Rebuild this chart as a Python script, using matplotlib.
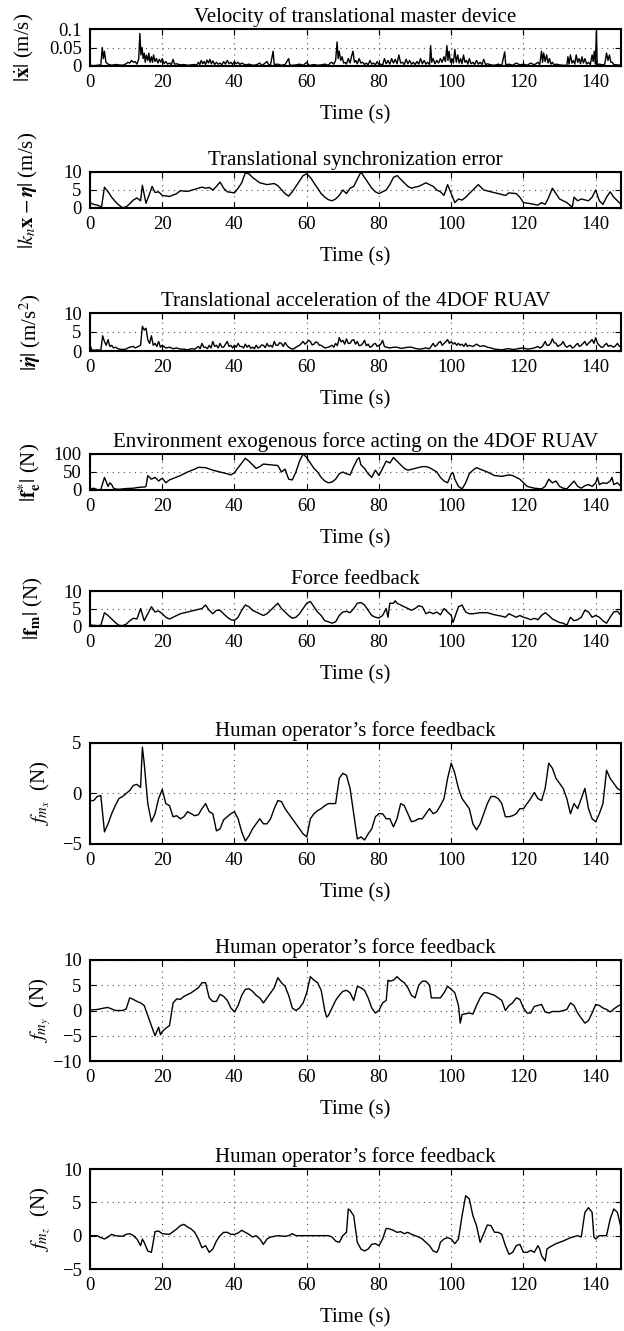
import matplotlib
matplotlib.use("Agg")
import matplotlib.pyplot as plt

plt.rcParams['font.family'] = ['Liberation Serif', 'DejaVu Serif']
plt.rcParams['mathtext.fontset'] = 'stix'

# ---------------- data (time s, value) ----------------
p1 = [(0,0.002),(1,0.001),(2,0.002),(3,0.003),(3.4,0.05),(3.7,0.02),(4,0.04),(4.4,0.01),(5,0.005),(6,0.002),(7,0.004),(8,0.003),(9,0.002),(10,0.006),(10.5,0.01),(11,0.008),(11.5,0.015),(12,0.01),(12.5,0.012),(13,0.005),(13.5,0.02),(13.8,0.088),(14.1,0.03),(14.4,0.05),(14.7,0.02),(15,0.035),(15.3,0.01),(15.6,0.03),(16,0.015),(16.3,0.035),(16.6,0.01),(17,0.025),(17.3,0.01),(17.6,0.03),(18,0.012),(18.4,0.02),(18.8,0.008),(19.2,0.018),(19.6,0.01),(20,0.02),(20.5,0.006),(21,0.012),(21.5,0.005),(22,0.008),(22.5,0.004),(23,0.018),(23.4,0.005),(24,0.006),(25,0.003),(26,0.004),(27,0.002),(28,0.003),(29,0.004),(29.5,0.002),(30,0.01),(30.4,0.004),(30.8,0.015),(31.2,0.006),(31.6,0.012),(32,0.004),(32.4,0.016),(32.8,0.008),(33.2,0.018),(33.6,0.006),(34,0.014),(34.5,0.004),(35,0.01),(35.5,0.005),(36,0.008),(36.5,0.003),(37,0.012),(37.5,0.005),(38,0.015),(38.5,0.006),(39,0.01),(39.5,0.004),(40,0.012),(40.5,0.006),(41,0.01),(41.5,0.004),(42,0.008),(43,0.003),(44,0.005),(45,0.002),(46,0.003),(47,0.008),(47.5,0.002),(48,0.004),(49,0.012),(49.5,0.003),(50,0.004),(50.7,0.04),(51,0.004),(52,0.005),(53,0.002),(54,0.004),(55,0.02),(55.3,0.003),(56,0.002),(57,0.003),(58,0.005),(59,0.002),(60,0.01),(60.5,0.003),(61,0.002),(62,0.004),(63,0.002),(64,0.003),(65,0.005),(66,0.002),(66.5,0.008),(67,0.01),(67.5,0.005),(68,0.015),(68.4,0.065),(68.7,0.02),(69,0.04),(69.4,0.015),(69.8,0.025),(70.2,0.008),(70.6,0.01),(71,0.005),(71.5,0.02),(72,0.008),(72.5,0.03),(72.8,0.04),(73.2,0.01),(73.6,0.015),(74,0.006),(74.5,0.02),(75,0.008),(75.5,0.01),(76,0.004),(76.5,0.008),(77,0.003),(77.5,0.015),(78,0.005),(78.5,0.008),(79,0.003),(79.5,0.012),(80,0.004),(80.5,0.005),(81,0.002),(81.5,0.02),(82,0.006),(82.5,0.015),(83,0.005),(83.5,0.02),(84,0.008),(84.5,0.018),(85,0.006),(85.5,0.03),(86,0.008),(86.5,0.01),(87,0.004),(87.5,0.018),(88,0.006),(88.5,0.015),(89,0.005),(89.5,0.01),(90,0.004),(90.5,0.012),(91,0.005),(91.5,0.02),(92,0.006),(92.5,0.015),(93,0.005),(93.5,0.01),(94,0.004),(94.3,0.055),(94.6,0.01),(95,0.02),(95.5,0.006),(96,0.015),(96.5,0.008),(97,0.02),(97.5,0.01),(98,0.025),(98.4,0.012),(98.8,0.055),(99.1,0.015),(99.4,0.04),(99.8,0.01),(100.2,0.02),(100.6,0.008),(101,0.045),(101.4,0.01),(101.8,0.03),(102.2,0.008),(102.6,0.02),(103,0.006),(103.4,0.03),(103.8,0.01),(104.2,0.015),(104.6,0.005),(105,0.02),(105.5,0.006),(106,0.01),(106.5,0.004),(107,0.015),(107.5,0.005),(108,0.01),(108.5,0.004),(109,0.018),(109.5,0.004),(110,0.006),(111,0.003),(112,0.002),(113,0.005),(114,0.002),(114.8,0.038),(115.1,0.003),(116,0.005),(117,0.002),(118,0.008),(119,0.003),(120,0.005),(121,0.002),(122,0.008),(123,0.003),(124,0.01),(124.5,0.004),(125,0.04),(125.3,0.01),(125.6,0.035),(126,0.012),(126.4,0.03),(126.8,0.008),(127.2,0.02),(127.6,0.005),(128,0.01),(128.5,0.003),(129,0.005),(130,0.003),(131,0.002),(132,0.002),(132.3,0.025),(132.6,0.005),(133,0.03),(133.4,0.008),(133.8,0.015),(134.2,0.005),(134.6,0.03),(135,0.01),(135.4,0.02),(135.8,0.006),(136.2,0.025),(136.6,0.008),(137,0.02),(137.5,0.005),(138,0.01),(138.5,0.004),(139,0.03),(139.3,0.012),(139.6,0.04),(139.9,0.005),(140.2,0.1),(140.4,0.004),(141,0.005),(142,0.003),(142.5,0.005),(143,0.035),(143.4,0.015),(143.8,0.03),(144.2,0.01),(144.6,0.01),(145,0.004),(146,0.003),(147,0.002)]

p2 = [(0,1.5),(1,1.0),(2,0.8),(3.2,0.3),(4,5.8),(5,4.5),(6,3),(7,1.8),(8,0.8),(9,0.1),(10,0.3),(11,1.2),(12,2.2),(13,2.8),(14,2),(14.5,6.3),(15.5,1.3),(16.5,4),(17.2,6),(18,4.3),(19,4.5),(20,3.5),(22,3.2),(24,4),(25,4.8),(27,4.6),(29,5.2),(31,5.8),(32,5.5),(33,5.7),(34,5),(35,6),(36,7.2),(37,5.5),(38,4.5),(40,4.2),(41,5.5),(42,7),(43,9.8),(44,9.5),(45,8.5),(47,7),(49,6.5),(51,6.8),(52,6.2),(54,4),(55,3.3),(56,4.5),(57,6),(58,7.5),(59,9),(60,9.5),(61,8.5),(62,7),(63,5.5),(64,4),(65,3),(66,2.3),(67,2),(68,2.5),(69,3.5),(70,5),(71,4),(72,5.5),(73,6),(74,8),(75,10),(76,8.5),(77,7),(78,5.5),(79,4.5),(80,4),(81,4.5),(82,5),(83,6.5),(84,8.5),(85,9),(86,8),(87,7),(88,6),(89,5.5),(90,5.8),(91,6),(92,6.5),(93,7),(94,6.5),(95,6),(96,5),(97,4.5),(98,3.5),(99,6.5),(100,4),(101,1.5),(102,2.5),(103,2.2),(104,3),(105,4),(106,5),(107.5,6.5),(109,5),(111,4.5),(113,4),(115,3.5),(116,4.2),(118,4),(119,3),(120,1.5),(122,1.2),(124,0.8),(125,1.5),(126,1),(127,3),(128,5.5),(129,4),(130,2.5),(132,1.5),(133.5,0.2),(134,3),(135,2),(136,2.5),(138,2),(139,3),(140,5),(141,2),(142,1),(143,3),(144,4.5),(145,3),(146.5,1.5),(147,1)]

p3 = [(0,1.5),(0.5,0.3),(1,0.2),(2,0.3),(3,0.2),(3.5,4),(4,2.5),(4.5,1.5),(5,3),(5.5,1.2),(6,1.5),(6.5,0.8),(7,1),(8,0.5),(9,0.4),(10,0.5),(10.5,0.8),(11,1),(12,1.2),(12.5,0.8),(13,1),(14,1.5),(14.5,6.5),(15,5.5),(15.5,6),(16,3),(16.5,2),(17,4),(17.5,1.5),(18,2),(18.5,1.2),(19,2.5),(19.5,1),(20,1.5),(21,0.8),(22,1),(23,0.6),(24,0.8),(25,0.5),(26,0.5),(27,0.3),(28,0.6),(29,0.5),(30,1.2),(30.5,0.6),(31,2),(31.5,1),(32,1),(32.5,0.6),(33,1.5),(33.5,0.8),(34,2.5),(34.5,1.2),(35,1.5),(35.5,0.8),(36,2),(36.5,1),(37,1),(37.5,1.8),(38,2.5),(38.5,1.2),(39,1.5),(39.5,0.8),(40,1.5),(40.5,1),(41,2),(41.5,1.2),(42,1.2),(42.5,0.8),(43,1.8),(43.5,1),(44,1.5),(44.5,0.7),(45,1),(45.5,0.6),(46,1.5),(46.5,0.8),(47,1),(47.5,1.6),(48,1.5),(48.5,0.9),(49,2),(49.5,1.2),(50,1.5),(50.5,1),(51,2.5),(51.5,1.5),(52,1.5),(52.5,2.2),(53,2),(53.5,1.2),(54,2.2),(54.5,1.5),(55,1),(55.5,0.7),(56,0.5),(56.5,0.6),(57,1),(58,1.5),(58.5,2),(59,2.5),(59.5,1.8),(60,2.2),(60.5,2.8),(61,2.5),(61.5,1.6),(62,1.8),(62.5,2.4),(63,2.2),(63.5,1.5),(64,1.5),(65,0.8),(66,1),(67,1.5),(67.5,1),(68,2),(68.5,1.4),(69,3.5),(69.5,2.4),(70,2.8),(70.5,1.8),(71,3.2),(71.5,2),(72,2),(72.5,2.8),(73,3),(73.5,1.8),(74,2.5),(74.5,1.4),(75,1.5),(75.5,2),(76,2.8),(76.5,1.4),(77,1.8),(77.5,1),(78,1.2),(78.5,1.8),(79,2),(79.5,1.2),(80,1.5),(80.5,1.8),(81,2.8),(81.5,1.2),(82,1),(83,0.8),(84,1),(85,1),(86,0.7),(87,0.8),(88,1),(89,1),(90,0.7),(91,0.5),(92,0.6),(93,0.8),(94,0.6),(95,2),(95.5,1.2),(96,1.5),(96.5,2.2),(97,2.5),(97.5,1.5),(98,2),(98.5,2.4),(99,3),(99.5,2),(100,2.5),(100.5,1.8),(101,2.2),(101.5,1.5),(102,2),(102.5,1.5),(103,1.8),(103.5,1.2),(104,2),(104.5,1.2),(105,1.5),(106,1.2),(107,1.8),(108,1.2),(109,1.4),(110,1),(111,0.8),(112,0.5),(113,0.4),(114,0.3),(115,0.5),(116,0.6),(117,0.4),(118,0.5),(119,0.7),(120,0.8),(121,0.5),(122,0.6),(123,0.8),(124,1.2),(124.5,0.8),(125,1),(125.5,1.6),(126,2.5),(126.5,1.5),(127,1.5),(127.5,2),(128,3.2),(128.5,2.2),(129,2),(129.5,1.2),(130,1.5),(130.5,1.8),(131,2.5),(131.5,1.4),(132,1),(132.5,1.3),(133,1.5),(133.5,0.8),(134,1),(134.5,1.6),(135,2),(135.5,1.2),(136,1.5),(136.5,2),(137,2.5),(137.5,1.5),(138,2),(138.5,2.5),(139,3),(139.5,2),(140,3.5),(140.5,2),(141,1.5),(141.5,1),(142,1),(142.5,1.6),(143,2),(143.5,1.2),(144,1.5),(145,1),(145.5,1.4),(146,2),(146.5,1.3),(147,1)]

p4 = [(0,2),(1,5),(2,1),(3,1),(4,35),(5,10),(5.5,20),(6,15),(6.5,5),(7,3),(8,2),(10,4),(12,5),(14,8),(15,8),(15.5,10),(16,40),(17,30),(18,35),(19,25),(20,33),(21,20),(22,28),(23,32),(25,40),(27,50),(29,58),(30,63),(32,62),(34,55),(36,50),(38,45),(39,42),(40,48),(41,62),(42,75),(43,88),(44,80),(45,70),(46,60),(47,65),(48,72),(50,70),(52,68),(53,50),(54,58),(55,30),(56,28),(57,50),(58,80),(59,100),(60,90),(61,75),(62,60),(63,50),(64,35),(65,25),(66,20),(67,22),(68,30),(69,45),(70,50),(71,45),(72,42),(73,65),(74,85),(74.5,90),(75,70),(76,60),(77,45),(78,35),(79,55),(80,40),(81,60),(82,80),(83,75),(84,90),(85,80),(86,70),(87,60),(88,55),(90,60),(92,65),(93,65),(94,62),(96,50),(97,35),(98,25),(99,20),(100,45),(100.5,48),(101,30),(102,10),(103,3),(104,20),(105,45),(106,55),(107,62),(108,58),(110,50),(112,40),(114,38),(116,42),(117,40),(119,30),(120,20),(121,10),(123,5),(125,3),(126,10),(127,30),(128,20),(129,25),(130,10),(131,5),(132,3),(134,25),(135,10),(136,5),(137,12),(138,15),(139,10),(140,20),(140.5,35),(141,15),(142,20),(143,18),(144,25),(144.5,35),(145,15),(146,20),(147,10)]

p5 = [(0,0.3),(2,0.1),(3,0.2),(4,3.8),(5,3),(6,2),(7,1),(8,0.2),(9,0.1),(10,0.5),(11,1.5),(12,2.2),(13,2),(14,5),(15,1.5),(16,3.5),(17,5.5),(18,4),(19,4.3),(20,3.5),(21,2.5),(22,2),(23,2.5),(25,3.5),(27,4),(29,4.5),(31,5),(32,6),(33,4.5),(34,3.5),(35,4.5),(36,4.5),(37,3.5),(38,2.5),(39,1.8),(40,1.6),(41,2.5),(42,4.5),(43,6),(44,5.5),(45,4.5),(47,3.5),(48,3),(49,3.5),(50,4.5),(51,5.5),(52,6.5),(53,5),(54,4),(55,3),(56,2.2),(57,2.5),(58,3.5),(59,5),(60,6.5),(61,7),(62,5.5),(63,4),(64,3),(65,1.5),(66,1.2),(67,0.8),(68,1.2),(69,3),(70,4),(71,4.2),(72,3.8),(73,5),(74,6.5),(75,6.7),(76,6),(77,4.5),(78,3),(79,2.5),(80,2.3),(81,3),(82,5),(82.5,2.5),(83,6.5),(84,6.5),(84.5,7.2),(85,6.5),(86,6),(87,5.5),(88,5),(89,4.5),(90,5),(91,5.8),(92,5.5),(93,3.5),(94,4),(95,3.5),(96,4),(97,3.2),(98,5),(99,4),(100,3),(100.5,1),(101,2.5),(102,5.5),(103,6),(104,4),(105,3.5),(106,3.5),(108,3.8),(110,3.8),(112,3.2),(114,2.8),(115,2.5),(116,3.5),(117,3),(118,2.5),(119,3),(120,2.5),(121,2.2),(122,1.8),(123,2.2),(124,1.8),(125,3),(126,3.8),(127,3),(128,2),(129,1.5),(130,1),(131,0.8),(132,0.2),(133,2.5),(134,1.5),(135,1.8),(136,2.5),(137,4.5),(138,4),(139,2.5),(140,3),(141,2.5),(142,1.5),(143,0.8),(144,2.5),(145,4),(146,4.2),(147,3)]

p6 = [(0,-0.7),(1,-0.7),(2,-0.3),(3,-0.2),(3.5,-2),(4,-3.8),(5,-3),(6,-2),(7,-1.2),(8,-0.5),(9,-0.3),(10,0),(11,0.3),(12,0.8),(13,0.9),(14,0.6),(14.5,4.6),(15,3),(16,-1),(17,-2.8),(18,-2),(19,-0.5),(20,0.4),(21,-1),(22,-1.2),(23,-2.3),(24,-2.2),(25,-2.5),(26,-2.3),(27,-1.8),(28,-2),(29,-2.2),(30,-2.1),(31,-1.5),(32,-1),(33,-1.8),(34,-2),(35,-3.7),(36,-3.5),(37,-2.6),(38,-2.3),(39,-2),(40,-1.8),(41,-2.5),(42,-3.8),(43,-4.7),(44,-4.2),(45,-3.5),(46,-3),(47,-2.5),(48,-3),(49,-3),(50,-2.5),(51,-1.5),(52,-0.7),(53,-0.8),(54,-1.5),(55,-2),(56,-2.5),(57,-3),(58,-3.5),(59,-4),(60,-4.3),(61,-2.5),(62,-2),(63,-1.7),(64,-1.5),(65,-1.2),(66,-1),(67,-1),(68,-1),(69,1.5),(70,2),(71,1.8),(72,0.5),(73,-2),(74,-4.5),(75,-4.3),(76,-4.6),(77,-4),(78,-3.5),(79,-2.3),(80,-2),(81,-2),(82,-2.5),(83,-2.5),(84,-3.3),(85,-2.5),(86,-1),(87,-1.2),(88,-2),(89,-2.8),(90,-2.7),(91,-2.5),(92,-2.5),(93,-2),(94,-1.5),(95,-2),(96,-1.8),(97,-1.2),(98,-0.5),(99,1.5),(100,3),(101,2),(102,0.5),(103,-0.5),(104,-1),(105,-1.5),(106,-3),(107,-3.6),(108,-3),(109,-2),(110,-1),(111,-0.3),(112,-0.3),(113,-0.5),(114,-1),(115,-2.3),(116,-2.3),(117,-2.2),(118,-2),(119,-1.5),(120,-1.5),(121,-1),(122,-0.5),(123,0.1),(124,-0.5),(125,-0.7),(126,0.5),(127,3),(128,2.5),(129,1.5),(130,1),(131,0.5),(132,-0.5),(133,-2),(134,-1),(135,-1.5),(136,-0.5),(137,0.5),(138,-1.5),(139,-2.5),(140,-2.8),(141,-2),(142,-1),(143,2.3),(144,1.5),(145,1),(146,0.5),(147,0.3)]

p7 = [(0,0.1),(2,0.2),(4,0.5),(5,0.6),(6,0.3),(7,0),(9,0),(10,0.3),(11,2.5),(12,2.2),(13,1.8),(14,1.5),(15,1),(16,-1),(17,-3),(18,-5),(19,-3.3),(19.5,-4.8),(20,-4.2),(21,-3.5),(22,-3),(23,1.5),(24,2.3),(25,2.2),(26,2.8),(28,3.5),(30,4.5),(31,5.5),(32,5.5),(33,2.5),(34,1.8),(35,1.8),(36,3.2),(37,2.8),(38,2),(39,0.5),(40,-0.3),(41,1),(42,3),(43,4.2),(44,4.3),(45,3.8),(46,3),(47,2.5),(48,1.5),(49,2.5),(50,3.5),(51,4.5),(52,6.5),(53,5.5),(54,4.8),(55,3),(56,0.5),(57,0),(58,0.5),(59,1.5),(60,3.5),(61,6.7),(62,6),(63,5.5),(64,4),(65,0),(65.5,-1.3),(66,-1),(67,0.5),(68,2),(69,3),(70,3.8),(71,4),(72,3.5),(73,2),(74,4.8),(75,4.5),(76,4),(77,2.5),(78,0.5),(79,-0.5),(80,0),(81,1.5),(82,2),(82.5,6),(83,5.8),(84,6),(85,6.7),(86,6),(87,5.5),(88,4.5),(89,3),(90,2.5),(91,5),(92,5.8),(93,5.8),(94,5),(94.5,2.5),(96,2.5),(97,2.5),(98,3.5),(99,4.8),(100,4.2),(101,3.5),(102,1),(102.5,-2.5),(103,-0.8),(105,-0.5),(106,-0.7),(107,1),(108,2.5),(109,3.5),(110,3.5),(112,3),(113,2.5),(114,2),(115,0),(116,1),(117,1.5),(118,2.5),(119,2.2),(120,0.5),(121,-0.5),(122,-0.5),(123,0.8),(124,1),(125,1.2),(126,-0.3),(127,-0.5),(128,-0.2),(130,-0.2),(132,0.2),(133,1.5),(134,1),(135,-0.5),(136,-1.5),(137,-2.5),(138,-2),(139,-0.5),(140,1.2),(141,1),(142,0.5),(143,0.2),(144,-0.3),(145,0.3),(146,0.8),(147,1.2)]

p8 = [(0,0),(2,0),(3,-0.3),(4,-0.5),(5,-0.2),(6,0.2),(7,0),(9,-0.1),(10,0.2),(11,0.3),(12,0),(13,-0.5),(14,-1.5),(14.5,-0.5),(15,-1),(16,-2.3),(17,-2.5),(17.5,-1),(18,0.6),(19,0.7),(20,0.3),(22,0.2),(24,1),(25,1.5),(26,1.7),(27,1.3),(28,1),(29,0.5),(30,-0.5),(31,-1.8),(32,-1.5),(33,-2.5),(34,-2),(35,-0.8),(36,0),(37,0.5),(38,0.5),(39,0.2),(40,0.2),(41,0.4),(42,0.8),(43,0.5),(44,0.2),(45,-0.2),(46,0),(47,-0.5),(48,-1.3),(49,-0.5),(50,-0.2),(52,0),(54,-0.1),(55,0),(56,0.3),(57,0),(60,0),(63,0),(66,0),(67,-0.2),(68,-0.8),(69,-1),(70,0),(71,0.5),(71.5,4),(72,3.8),(73,3),(74,-1),(75,-2),(76,-2.3),(77,-2),(78,-1.3),(79,-1.2),(80,-1.5),(81,-0.5),(82,1.1),(83,1),(84,0.8),(85,0.5),(86,0.6),(87,0.3),(88,0.5),(89,0.2),(90,0),(91,-0.2),(92,-0.5),(93,-1),(94,-1.5),(95,-2.3),(96,-2.5),(96.5,-2),(97,-1),(98,-0.5),(99,-0.3),(100,-0.5),(101,-1.2),(102,-0.5),(103,3),(104,6),(105,5.5),(106,3),(107,1.5),(108,-1),(109,0.3),(110,1.6),(111,1.5),(112,0.5),(113,0.5),(114,0.2),(115,-1.5),(116,-2.8),(117,-2.5),(118,-1.5),(119,-1.3),(120,-2.5),(121,-2.5),(122,-2.2),(123,-2.5),(124,-1.5),(124.5,-2),(125,-3),(126,-3.8),(126.5,-2),(127,-1.8),(129,-1.2),(131,-0.8),(133,-0.3),(135,0),(136,-0.2),(137,3.5),(138,4.2),(139,3.5),(139.5,-0.2),(140,-0.5),(141,0),(142,0),(143,0),(144,2.5),(145,4),(146,3.5),(147,1.2)]

titles = ["Velocity of translational master device",
          "Translational synchronization error",
          "Translational acceleration of the 4DOF RUAV",
          "Environment exogenous force acting on the 4DOF RUAV",
          "Force feedback",
          "Human operator\u2019s force feedback",
          "Human operator\u2019s force feedback",
          "Human operator\u2019s force feedback"]
ylabels = [r"$|\dot{\mathbf{x}}|$ (m/s)",
           r"$|k_n\mathbf{x} - \boldsymbol{\eta}|$ (m/s)",
           r"$|\dot{\boldsymbol{\eta}}|$ (m/s$^2$)",
           r"$|\mathbf{f}_{\mathbf{e}}^{*}|$ (N)",
           r"$|\mathbf{f}_{\mathbf{m}}|$ (N)",
           r"$f_{m_x}$  (N)",
           r"$f_{m_y}$  (N)",
           r"$f_{m_z}$  (N)"]
yticks = [[0, 0.05, 0.1], [0, 5, 10], [0, 5, 10], [0, 50, 100], [0, 5, 10],
          [-5, 0, 5], [-10, -5, 0, 5, 10], [-5, 0, 5, 10]]
yticklabels = [["0", "0.05", "0.1"], ["0", "5", "10"], ["0", "5", "10"], ["0", "50", "100"],
               ["0", "5", "10"], ["\u22125", "0", "5"], ["\u221210", "\u22125", "0", "5", "10"],
               ["\u22125", "0", "5", "10"]]
xticks = [0, 20, 40, 60, 80, 100, 120, 140]
series = [p1, p2, p3, p4, p5, p6, p7, p8]

# ---------------- layout (pixels) ----------------
W, H = 624, 1331
fig = plt.figure(figsize=(W / 100, H / 100), dpi=100)
boxes = [(29, 66), (172, 208), (313, 351), (454, 490), (591, 626),
         (743, 844), (960, 1061), (1169, 1269)]
ylabel_x = [24, 28, 30, 30, 33, 40, 40, 40]   # label centre, pixels
left, right = 90, 621

for i, (top, bot) in enumerate(boxes):
    ax = fig.add_axes([left / W, 1 - bot / H, (right - left) / W, (bot - top) / H])
    t, v = zip(*series[i])
    ax.plot(t, v, color="black", lw=1.0)
    ax.set_xlim(0, 147)
    ax.set_ylim(yticks[i][0], yticks[i][-1])
    ax.set_xticks(xticks)
    ax.set_xticklabels([str(x) for x in xticks])
    ax.set_yticks(yticks[i])
    ax.set_yticklabels(yticklabels[i])
    ax.grid(True, color="#555555", linestyle=(0, (1, 4)), linewidth=0.8)
    ax.tick_params(direction="in", top=True, right=True, length=4, width=0.8,
                   labelsize=13.5, pad=6)
    for s in ax.spines.values():
        s.set_linewidth(1.5)
    ax.set_title(titles[i], fontsize=15, pad=5)
    ax.set_xlabel("Time (s)", fontsize=15, labelpad=10)
    ax.set_ylabel(ylabels[i], fontsize=15, va="center")
    ax.yaxis.set_label_coords((ylabel_x[i] - left) / (right - left), 0.5)

fig.savefig("out.png", dpi=100)
